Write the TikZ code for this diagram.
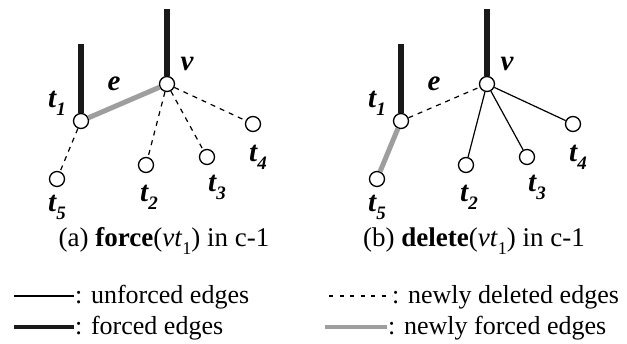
\documentclass[tikz,border=0pt]{standalone}
\usepackage{fontspec}
\setmainfont{Liberation Serif}
\newcommand\lbl[2]{#1\raisebox{-0.28em}{\fontsize{19}{19}\selectfont #2}}
\newcommand\capsub[1]{\raisebox{-0.3em}{\fontsize{18}{18}\selectfont #1}}
\begin{document}
\begin{tikzpicture}[x=1pt,y=-1pt,
  vtx/.style={circle,draw,fill=white,line width=1.3pt,minimum size=15pt,inner sep=0pt},
  lab/.style={font=\fontsize{29}{30}\selectfont\bfseries\itshape,inner sep=0pt},
  captxt/.style={font=\fontsize{27}{30}\selectfont,inner sep=0pt,anchor=base},
  legtxt/.style={font=\fontsize{26}{30}\selectfont,inner sep=0pt,anchor=base west},
  forced/.style={line width=5.5pt,color=black!90},
  newforced/.style={line width=5pt,color=black!38},
  deleted/.style={line width=1.2pt,dash pattern=on 5pt off 5pt},
  unforced/.style={line width=1.2pt}]
\useasboundingbox (0,0) rectangle (627,343);
% ---------- panel (a)
\node[vtx] (av) at (167,84) {};
\node[vtx] (at1) at (81,121) {};
\node[vtx] (at5) at (57,179) {};
\node[vtx] (at2) at (146,165) {};
\node[vtx] (at3) at (207,157) {};
\node[vtx] (at4) at (253,124) {};
\coordinate (avtop) at (167,9);
\coordinate (at1top) at (81,44);
\draw[forced] (avtop) -- (av);
\draw[forced] (at1top) -- (at1);
\draw[newforced] (at1) -- (av);
\draw[deleted] (at1) -- (at5);
\draw[deleted] (av) -- (at2);
\draw[deleted] (av) -- (at3);
\draw[deleted] (av) -- (at4);
\node[lab] (avl) at (187,64) {v};
\node[lab] (ael) at (114,84) {e};
\node[lab] (at1l) at (57,103) {\lbl{t}{1}};
\node[lab] (at5l) at (57,207) {\lbl{t}{5}};
\node[lab] (at2l) at (149,197) {\lbl{t}{2}};
\node[lab] (at3l) at (217,187) {\lbl{t}{3}};
\node[lab] (at4l) at (258,157) {\lbl{t}{4}};
\node[captxt] (acap) at (164,246) {(a) \textbf{force}(\textit{vt}\capsub{1}) in c-1};
% ---------- panel (b)
\node[vtx] (bv) at (487,84) {};
\node[vtx] (bt1) at (401,121) {};
\node[vtx] (bt5) at (377,179) {};
\node[vtx] (bt2) at (466,165) {};
\node[vtx] (bt3) at (527,157) {};
\node[vtx] (bt4) at (573,124) {};
\coordinate (bvtop) at (487,9);
\coordinate (bt1top) at (401,44);
\draw[forced] (bvtop) -- (bv);
\draw[forced] (bt1top) -- (bt1);
\draw[deleted] (bt1) -- (bv);
\draw[newforced] (bt1) -- (bt5);
\draw[unforced] (bv) -- (bt2);
\draw[unforced] (bv) -- (bt3);
\draw[unforced] (bv) -- (bt4);
\node[lab] (bvl) at (507,64) {v};
\node[lab] (bel) at (434,84) {e};
\node[lab] (bt1l) at (377,103) {\lbl{t}{1}};
\node[lab] (bt5l) at (377,207) {\lbl{t}{5}};
\node[lab] (bt2l) at (469,197) {\lbl{t}{2}};
\node[lab] (bt3l) at (537,187) {\lbl{t}{3}};
\node[lab] (bt4l) at (578,157) {\lbl{t}{4}};
\node[captxt] (bcap) at (474,246) {(b) \textbf{delete}(\textit{vt}\capsub{1}) in c-1};
% ---------- legend
\coordinate (l1a) at (14,296); \coordinate (l1b) at (74,296);
\coordinate (l2a) at (14,327); \coordinate (l2b) at (74,327);
\coordinate (l3a) at (329,296); \coordinate (l3b) at (392,296);
\coordinate (l4a) at (325,327); \coordinate (l4b) at (387,327);
\draw[unforced] (l1a) -- (l1b);
\draw[line width=4pt,color=black!90] (l2a) -- (l2b);
\draw[line width=1.1pt,dash pattern=on 4pt off 6.5pt] (l3a) -- (l3b);
\draw[line width=4pt,color=black!38] (l4a) -- (l4b);
\node[legtxt] (t1x) at (75,303) {: unforced edges};
\node[legtxt] (t2x) at (75,334) {: forced edges};
\node[legtxt] (t3x) at (392,303) {: newly deleted edges};
\node[legtxt] (t4x) at (388,334) {: newly forced edges};
\end{tikzpicture}
\end{document}
